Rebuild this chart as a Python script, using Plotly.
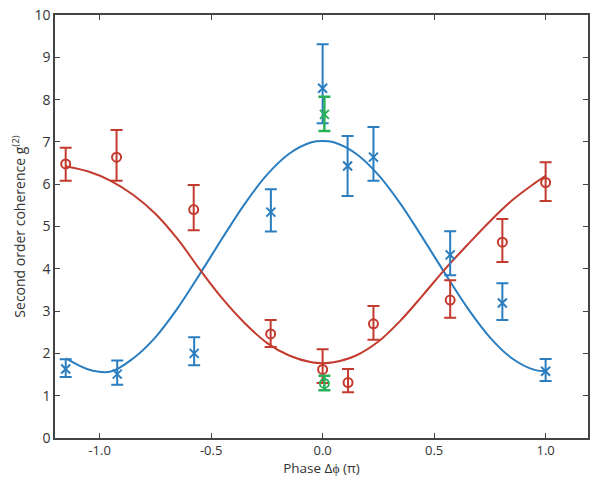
import plotly.graph_objects as go

# Blue (crosses) data
blue_x = [-1.152, -0.921, -0.576, -0.232, 0.0, 0.112, 0.228, 0.572, 0.806, 1.0]
blue_y = [1.63, 1.51, 2.00, 5.34, 8.27, 6.43, 6.64, 4.33, 3.19, 1.58]
blue_err_up = [0.23, 0.32, 0.38, 0.54, 1.04, 0.71, 0.71, 0.56, 0.47, 0.29]
blue_err_dn = [0.19, 0.25, 0.28, 0.46, 0.83, 0.71, 0.56, 0.48, 0.40, 0.23]

# Red (circles) data
red_x = [-1.152, -0.924, -0.578, -0.233, 0.0, 0.114, 0.228, 0.572, 0.806, 1.0]
red_y = [6.48, 6.64, 5.40, 2.46, 1.62, 1.31, 2.70, 3.26, 4.63, 6.04]
red_err_up = [0.38, 0.64, 0.58, 0.33, 0.48, 0.32, 0.42, 0.47, 0.55, 0.48]
red_err_dn = [0.40, 0.56, 0.49, 0.31, 0.32, 0.23, 0.38, 0.42, 0.47, 0.44]

# Green data
green_x = [0.008, 0.008]
green_y = [7.65, 1.29]
green_err_up = [0.42, 0.18]
green_err_dn = [0.39, 0.16]
green_symbols = ["x-thin-open", "circle-open"]

# Fit curves
curve_x = [-1.15, -1.05, -0.95, -0.85, -0.75, -0.65, -0.55, -0.45, -0.35, -0.25, -0.15, -0.05,
           0.0, 0.05, 0.15, 0.25, 0.35, 0.45, 0.55, 0.65, 0.75, 0.85, 0.95, 1.0]
blue_curve = [1.88, 1.62, 1.57, 1.88, 2.38, 3.07, 3.88, 4.72, 5.53, 6.22, 6.72, 6.99,
              7.02, 6.99, 6.72, 6.22, 5.53, 4.72, 3.88, 3.07, 2.38, 1.88, 1.61, 1.58]
red_curve = [6.42, 6.30, 6.08, 5.75, 5.30, 4.70, 3.98, 3.30, 2.72, 2.25, 1.95, 1.79,
             1.77, 1.79, 1.95, 2.28, 2.78, 3.38, 4.00, 4.57, 5.12, 5.62, 6.02, 6.20]

x_ticks = [-1.0, -0.5, 0.0, 0.5, 1.0]
y_ticks = list(range(0, 11))

BLUE = "#2a7ec0"
RED = "#c33a2e"
GREEN = "#2bb05a"

fig = go.Figure()

fig.add_trace(go.Scatter(x=curve_x, y=blue_curve, mode="lines", line=dict(color=BLUE, width=2, shape="spline"),
                         showlegend=False, hoverinfo="skip"))
fig.add_trace(go.Scatter(x=curve_x, y=red_curve, mode="lines", line=dict(color=RED, width=2, shape="spline"),
                         showlegend=False, hoverinfo="skip"))

fig.add_trace(go.Scatter(
    x=blue_x, y=blue_y, mode="markers",
    marker=dict(symbol="x-thin-open", size=9, color=BLUE, line=dict(color=BLUE, width=2)),
    error_y=dict(type="data", symmetric=False, array=blue_err_up, arrayminus=blue_err_dn,
                 color=BLUE, thickness=2, width=6),
    showlegend=False))

fig.add_trace(go.Scatter(
    x=red_x, y=red_y, mode="markers",
    marker=dict(symbol="circle-open", size=9, color=RED, line=dict(color=RED, width=2)),
    error_y=dict(type="data", symmetric=False, array=red_err_up, arrayminus=red_err_dn,
                 color=RED, thickness=2, width=6),
    showlegend=False))

fig.add_trace(go.Scatter(
    x=green_x, y=green_y, mode="markers",
    marker=dict(symbol=green_symbols, size=9, color=GREEN, line=dict(color=GREEN, width=2)),
    error_y=dict(type="data", symmetric=False, array=green_err_up, arrayminus=green_err_dn,
                 color=GREEN, thickness=2.5, width=6),
    showlegend=False))

axis_common = dict(showline=True, linecolor="#444444", linewidth=1.5, mirror="ticks",
                   ticks="inside", ticklen=5, tickcolor="#444444", tickwidth=1,
                   showgrid=False, zeroline=False, automargin=False)

fig.update_layout(
    width=590, height=477,
    margin=dict(l=55, r=2, t=15, b=39),
    paper_bgcolor="white", plot_bgcolor="white",
    font=dict(family="Open Sans", size=14, color="#333333"),
    xaxis=dict(range=[-1.2, 1.19], tickvals=x_ticks, ticktext=[f"{v:.1f}" for v in x_ticks],
               tickfont=dict(family="Open Sans", size=13, color="#333333"),
               title=dict(text="Phase Δϕ (π)", standoff=0, font=dict(size=13.5)), **axis_common),
    yaxis=dict(range=[0, 10], tickvals=y_ticks,
               tickfont=dict(family="Open Sans", size=14, color="#333333"),
               title=dict(text="Second order coherence g<sup>(2)</sup>", standoff=6, font=dict(size=14)),
               **axis_common),
)

fig.write_html("out.html", config={"displayModeBar": False},
               post_script="document.body.style.margin='0';document.body.style.overflow='hidden';")
